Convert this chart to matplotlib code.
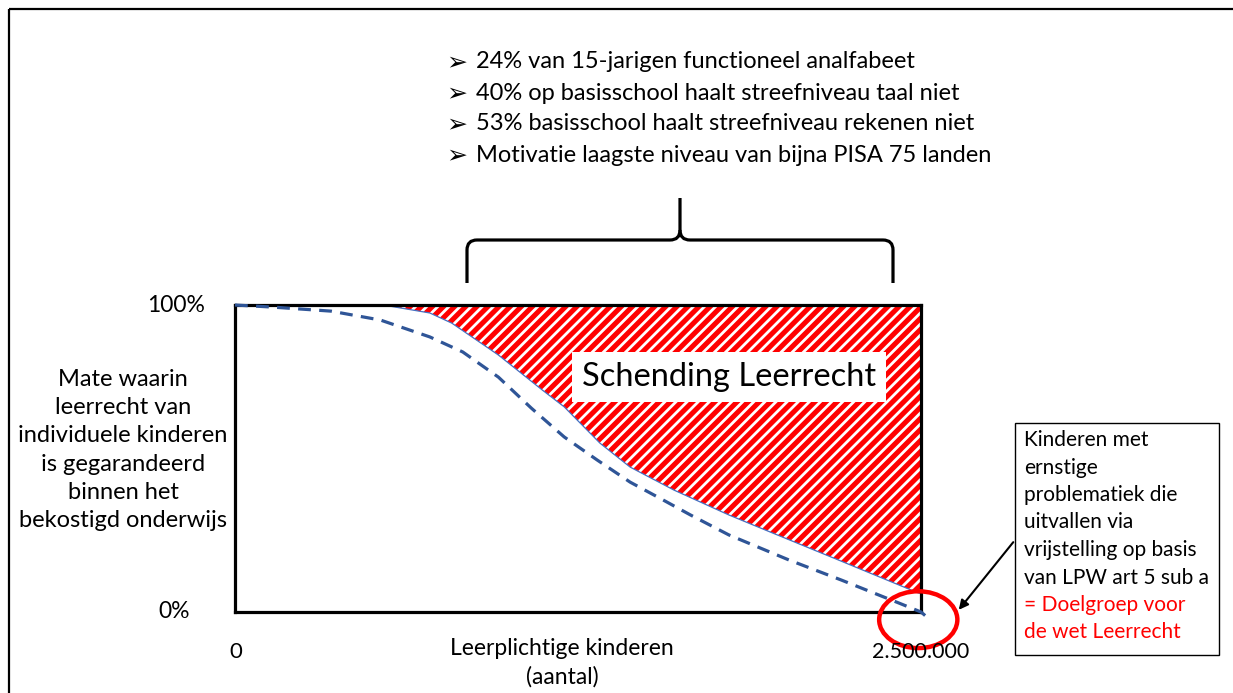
import matplotlib.pyplot as plt
from matplotlib.patches import Rectangle, Ellipse, PathPatch
from matplotlib.path import Path
from matplotlib.transforms import Affine2D

# Data (x in millions of children, y in percent)
x_upper = [0.54, 0.71, 0.79, 0.96, 1.12, 1.20, 1.33, 1.44, 1.60, 1.80, 1.96, 2.20, 2.49, 2.50]
y_upper = [100, 97.4, 94.1, 83.7, 72.3, 66.8, 55.0, 47.2, 39.7, 31.6, 25.7, 16.9, 6.2, 6.0]

x_lower = [0, 0.14, 0.35, 0.53, 0.71, 0.83, 0.96, 1.08, 1.20, 1.32, 1.44, 1.56, 1.66, 1.80,
           2.02, 2.21, 2.42, 2.50, 2.53]
y_lower = [100, 99.3, 98.0, 95.1, 89.6, 84.7, 76.5, 66.4, 57.0, 49.5, 42.3, 36.5, 31.6, 25.1,
           16.9, 10.4, 2.9, 0, -2.3]

bullets = [
    "24% van 15-jarigen functioneel analfabeet",
    "40% op basisschool haalt streefniveau taal niet",
    "53% basisschool haalt streefniveau rekenen niet",
    "Motivatie laagste niveau van bijna PISA 75 landen",
]
ylabel = "Mate waarin\nleerrecht van\nindividuele kinderen\nis gegarandeerd\nbinnen het\nbekostigd onderwijs"
box_lines = ["Kinderen met", "ernstige", "problematiek die", "uitvallen via",
             "vrijstelling op basis", "van LPW art 5 sub a", "= Doelgroep voor", "de wet Leerrecht"]
box_colors = ["black"] * 6 + ["red"] * 2

W, H = 1233, 693
FONT = ["Lato", "DejaVu Sans"]
plt.rcParams["font.family"] = FONT
plt.rcParams["hatch.linewidth"] = 2.0

fig = plt.figure(figsize=(W / 100, H / 100), dpi=100)
# pixel coordinates (origin top-left) -> figure
pix = Affine2D().scale(1 / W, -1 / H).translate(0, 1) + fig.transFigure

# outer frame (cut off at right and bottom)
fig.patches.append(Rectangle((9, 9), 1240, 700, transform=pix, fill=False, lw=1.6, ec="black"))

ax = fig.add_axes([235 / W, 1 - 612 / H, 686 / W, 307 / H])
ax.set_xlim(0, 2.5)
ax.set_ylim(0, 100)
ax.set_xticks([])
ax.set_yticks([])
for s in ax.spines.values():
    s.set_linewidth(2.3)
    s.set_color("black")
    s.set_zorder(3)

ax.fill_between(x_upper, y_upper, 100, facecolor="red", hatch="///", edgecolor="white",
                linewidth=0, zorder=1)
ax.plot(x_upper, y_upper, color="#4472C4", lw=0.9, zorder=2)
ax.plot([2.5, 2.5], [6.0, 100], color="#4472C4", lw=0.9, zorder=2)
ax.plot(x_lower, y_lower, color="#2F5597", lw=2.3, dashes=(4, 2.6), clip_on=False, zorder=4)

ax.text(1.80, 76.5, "Schending Leerrecht", fontsize=23.5, ha="center", va="center", zorder=5,
        bbox=dict(facecolor="white", edgecolor="none", pad=7))

# red circle around the end point
ax.add_patch(Ellipse((2.49, -2.5), 0.285, 18.5, fill=False, ec="red", lw=3.2,
                     clip_on=False, zorder=5))

# brace above the chart
left = Path([(467, 283), (467, 250), (467, 240), (477, 240), (670, 240), (680, 240), (680, 230), (680, 198)],
            [Path.MOVETO, Path.LINETO, Path.CURVE3, Path.CURVE3, Path.LINETO, Path.CURVE3, Path.CURVE3, Path.LINETO])
right = Path([(893, 283), (893, 250), (893, 240), (883, 240), (690, 240), (680, 240), (680, 230)],
             [Path.MOVETO, Path.LINETO, Path.CURVE3, Path.CURVE3, Path.LINETO, Path.CURVE3, Path.CURVE3])
for p in (left, right):
    fig.patches.append(PathPatch(p, transform=pix, fill=False, lw=2.3, ec="black", capstyle="butt"))

# bullet list
for i, b in enumerate(bullets):
    y = 1 - (62 + 31 * i) / H
    fig.text(446 / W, y, "\u27a2", fontsize=18, ha="left", va="center", family="DejaVu Sans")
    fig.text(476 / W, y, b, fontsize=17, ha="left", va="center")

# axis texts
fig.text(205 / W, 1 - 305 / H, "100%", fontsize=16.5, ha="right", va="center")
fig.text(190 / W, 1 - 612 / H, "0%", fontsize=16.5, ha="right", va="center")
fig.text(236 / W, 1 - 652 / H, "0", fontsize=16, ha="center", va="center")
fig.text(921 / W, 1 - 652 / H, "2.500.000", fontsize=15.5, ha="center", va="center")
fig.text(562 / W, 1 - 663 / H, "Leerplichtige kinderen\n(aantal)", fontsize=16.5, ha="center",
         va="center", linespacing=1.4)
fig.text(123 / W, 1 - 450 / H, ylabel, fontsize=17, ha="center", va="center", linespacing=1.43)

# annotation box on the right
fig.patches.append(Rectangle((1015, 423), 204, 232, transform=pix, fill=False, lw=1.0, ec="black"))
for i, (t, c) in enumerate(zip(box_lines, box_colors)):
    fig.text(1024 / W, 1 - (440 + 27.5 * i) / H, t, fontsize=15, ha="left", va="center", color=c)
ax.annotate("", xy=(957, 612), xycoords=pix, xytext=(1015, 540), textcoords=pix,
            arrowprops=dict(arrowstyle="-|>", color="black", lw=1.5, mutation_scale=14))

fig.savefig("out.png", dpi=100)
